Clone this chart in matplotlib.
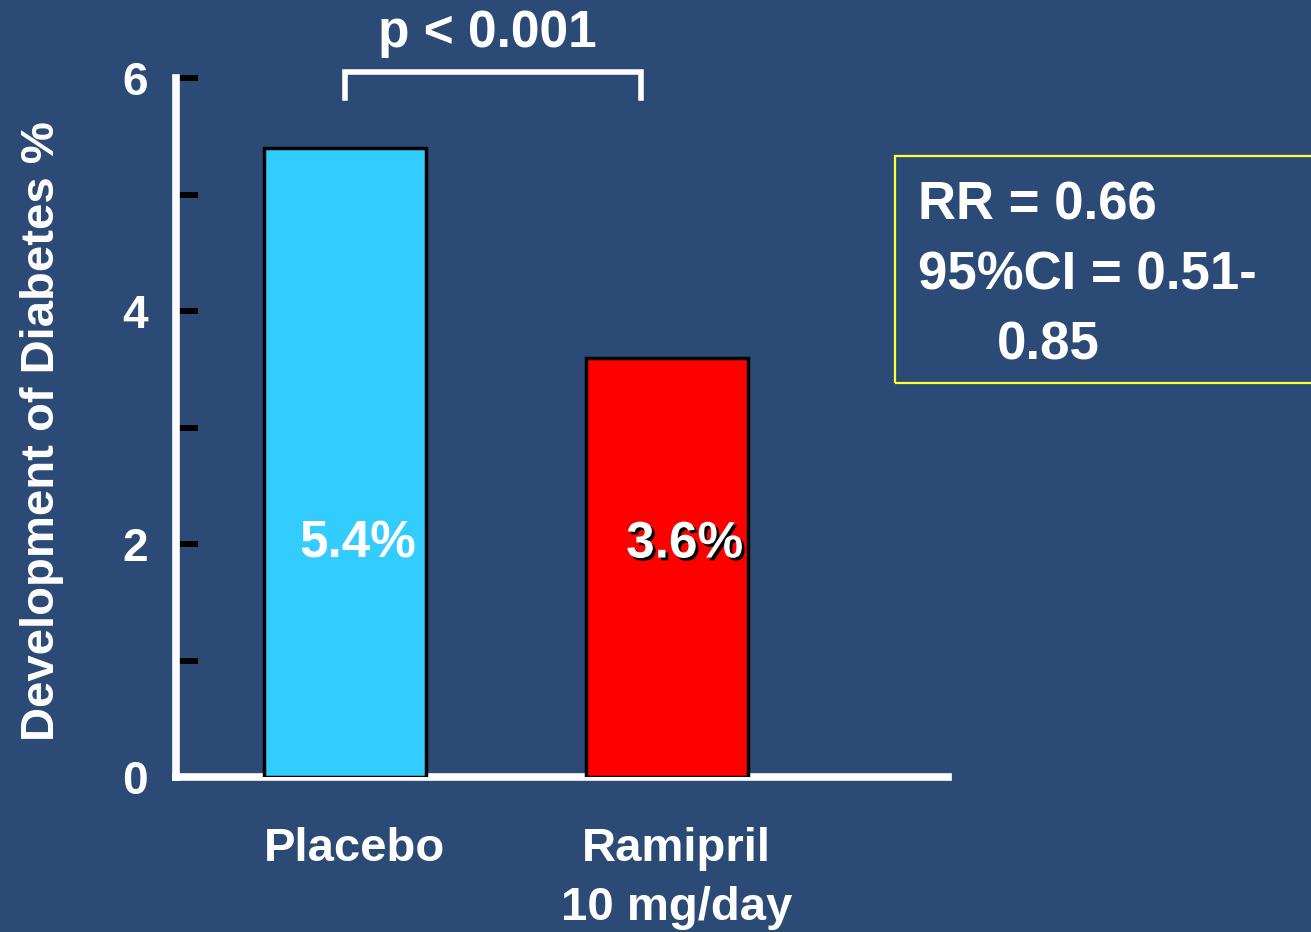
import matplotlib
matplotlib.use("Agg")
import matplotlib.pyplot as plt
from matplotlib.patches import Rectangle
import matplotlib.patheffects as pe

plt.rcParams['font.family'] = ['Liberation Sans', 'DejaVu Sans']
plt.rcParams['font.weight'] = 'bold'

# Data
categories = ["Placebo", "Ramipril\n10 mg/day"]
values = [5.4, 3.6]
value_labels = ["5.4%", "3.6%"]
bar_colors = ["#33CCFF", "#FF0000"]
y_ticks = [0, 1, 2, 3, 4, 5, 6]
y_tick_labels = ["0", "", "2", "", "4", "", "6"]
stats_lines = ["RR = 0.66", "95%CI = 0.51-", "0.85"]
p_text = "p < 0.001"

bg = "#2C4A76"
W, H = 1311, 932
fig = plt.figure(figsize=(W / 100, H / 100), dpi=100, facecolor=bg)
ax = fig.add_axes([176 / W, 1 - 777 / H, (948 - 176) / W, (777 - 78) / H])
ax.set_facecolor(bg)

x = [0, 1]
ax.bar(x, values, width=0.506, color=bar_colors, edgecolor="black",
       linewidth=2.5, zorder=3)

ax.set_xlim(-0.525, 1.873)
ax.set_ylim(0, 6)

for s in ["top", "right"]:
    ax.spines[s].set_visible(False)
for s in ["left", "bottom"]:
    ax.spines[s].set_color("white")
    ax.spines[s].set_linewidth(5.5)
    ax.spines[s].set_capstyle("projecting")

ax.set_yticks(y_ticks)
ax.set_yticklabels(y_tick_labels)
ax.tick_params(axis="y", direction="in", length=16, width=4.3, color="black",
               labelcolor="white", labelsize=33, pad=20)
# category labels sit a little right of the bar centres
ax.set_xticks([xi + 0.03 for xi in x])
ax.set_xticklabels(categories)
ax.tick_params(axis="x", length=0, labelcolor="white", labelsize=34, pad=36)
for lbl in ax.get_xticklabels():
    lbl.set_linespacing(1.45)
for lbl in ax.get_xticklabels() + ax.get_yticklabels():
    lbl.set_fontweight("bold")

# value labels inside bars
offsets = [0.04, 0.055]
shadows = [None, "black"]
for xi, v, lab, off, sh in zip(x, values, value_labels, offsets, shadows):
    effects = []
    if sh:
        effects = [pe.withSimplePatchShadow(offset=(2, -2), shadow_rgbFace=sh,
                                            alpha=1.0)]
    ax.text(xi + off, 2.0, lab, ha="center", va="center",
            fontsize=37, fontweight="bold", color="white", zorder=5,
            path_effects=effects)

# significance bracket
ax.plot([0, 0, 0.92, 0.92], [5.83, 6.05, 6.05, 5.83], color="white",
        linewidth=4, clip_on=False, solid_joinstyle="miter", zorder=4)
fig.text(487 / W, 1 - 33 / H, p_text, ha="center", va="center",
         fontsize=37, fontweight="bold", color="white")

# y-axis title
fig.text(42 / W, 1 - 431 / H, "Development of Diabetes %", rotation=90,
         ha="center", va="center", fontsize=34, fontweight="bold", color="white")

# statistics box
fig.patches.append(Rectangle((895 / W, 1 - 383 / H), (1330 - 895) / W,
                             (383 - 156) / H, transform=fig.transFigure,
                             facecolor="none", edgecolor="#FFFF33", linewidth=1.6))
line_pos = [(918, 205), (918, 275), (997, 345)]
for (px, py), t in zip(line_pos, stats_lines):
    fig.text(px / W, 1 - py / H, t, ha="left", va="center", fontsize=38,
             fontweight="bold", color="white")

fig.savefig("out.png", dpi=100, facecolor=bg)
